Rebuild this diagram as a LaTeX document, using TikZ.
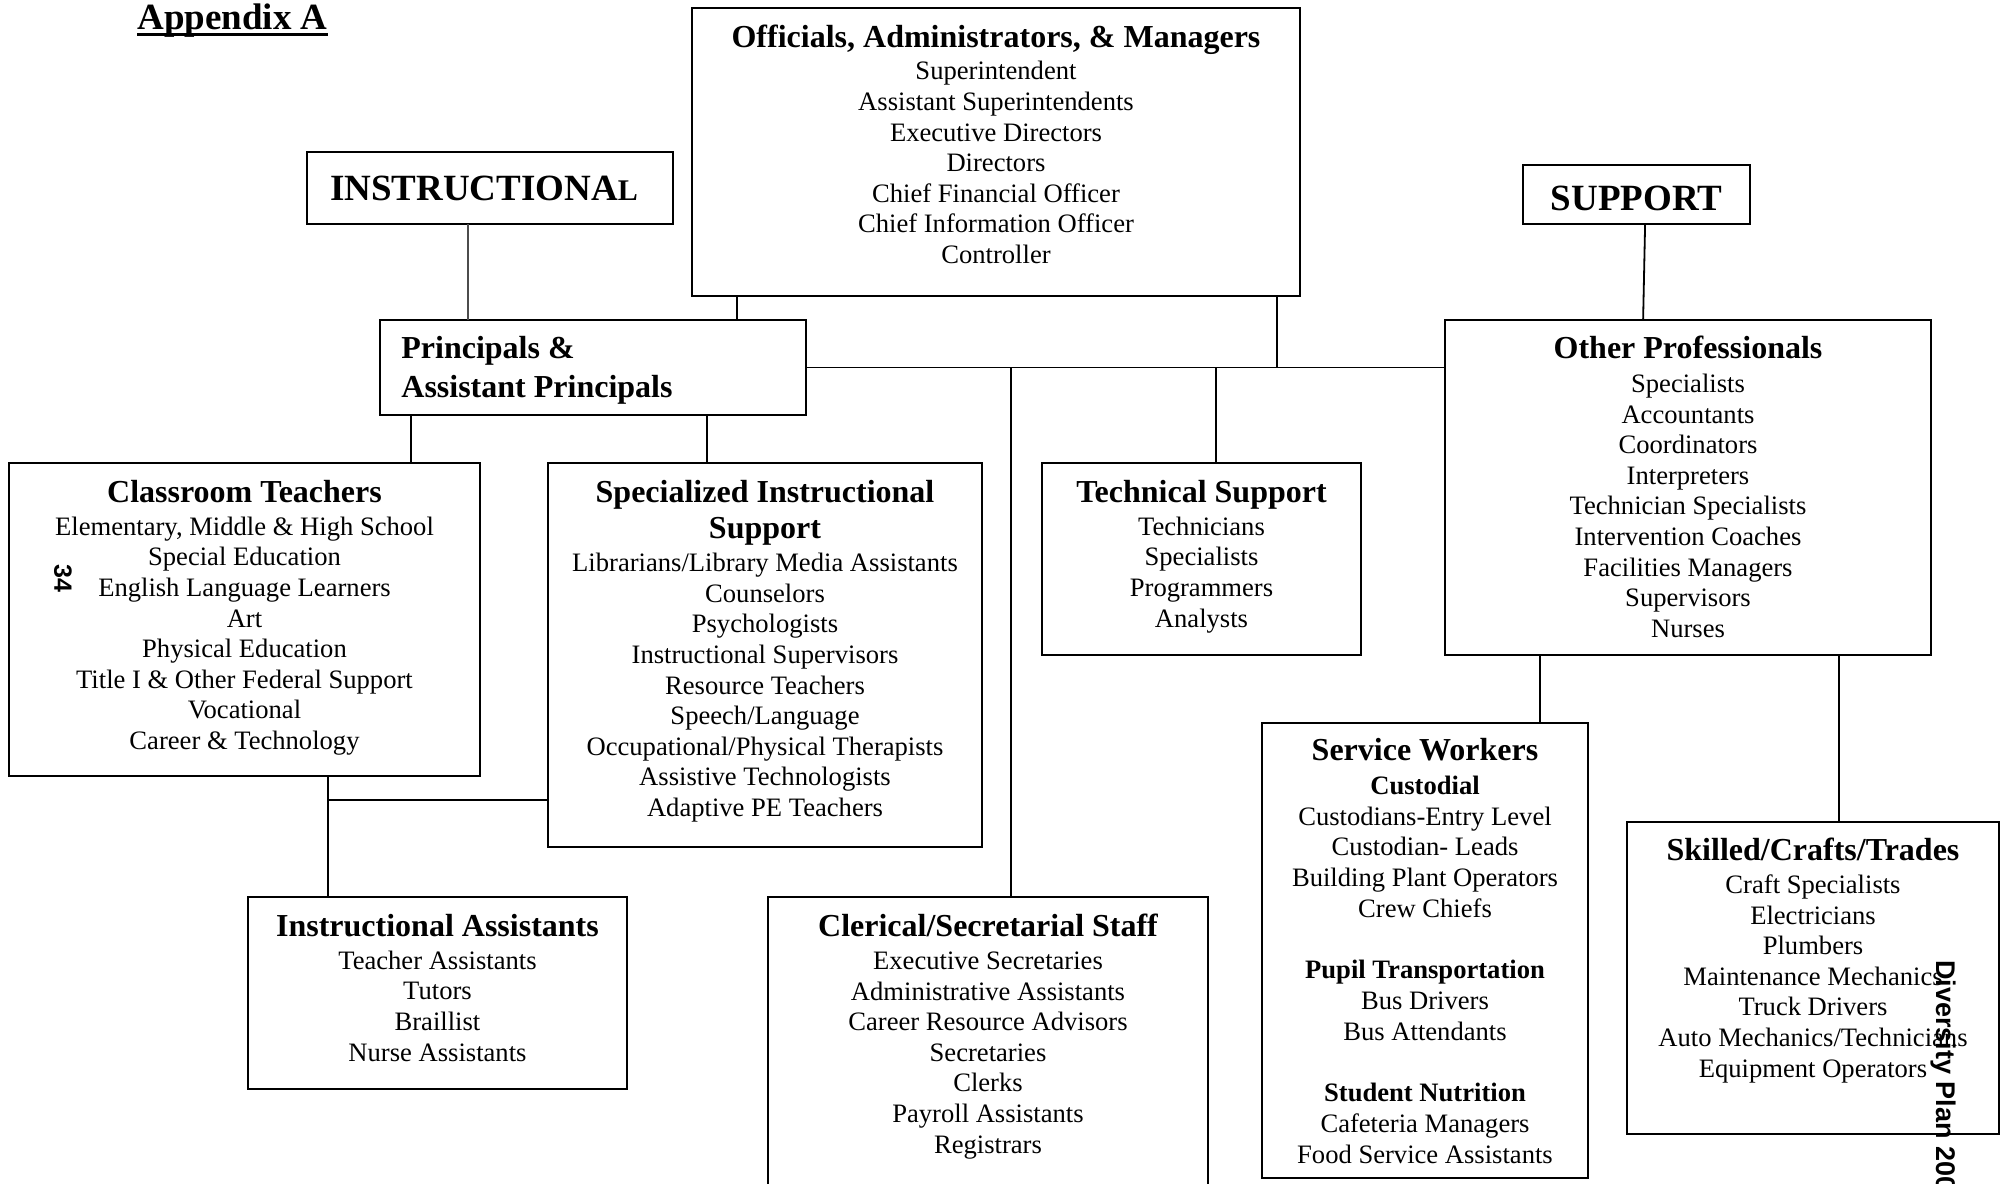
\documentclass[tikz,border=0pt]{standalone}
\usepackage{fontspec}
\setmainfont{Liberation Serif}
\newfontfamily\sansfam{Liberation Sans}
\newcommand\hd[1]{{\fontsize{16}{18}\selectfont\bfseries #1}}
\newcommand\sbh[1]{{\bfseries #1}}
\begin{document}
\begin{tikzpicture}[x=0.5pt,y=-0.5pt,
  box/.style={draw,line width=1pt,inner sep=0pt,outer sep=0pt},
  txt/.style={anchor=north,inner sep=0pt,align=center,font=\fontsize{13.3}{15.3}\selectfont},
  conn/.style={line width=0.9pt},
  side/.style={rotate=-90,inner sep=0pt,font=\sansfam\bfseries}]
\useasboundingbox[fill=white] (0,0) rectangle (2007,1183);

% title
\node[anchor=base west,inner sep=0pt,font=\fontsize{18.5}{20}\selectfont\bfseries] (app) at (137,29) {Appendix A};
\draw[line width=1.5pt] ([yshift=-2.5pt]app.base west) -- ([yshift=-2.5pt]app.base east);

% boxes
\node[box,minimum width=304pt,minimum height=144pt] (off) at (996,152) {};
\node[box,minimum width=183pt,minimum height=36pt] (instr) at (490,188) {};
\node[box,minimum width=113.5pt,minimum height=29.5pt] (supp) at (1636.5,194.5) {};
\node[box,minimum width=213pt,minimum height=47.5pt] (prin) at (593,367.5) {};
\node[box,minimum width=235.5pt,minimum height=156.5pt] (cls) at (244.5,619.5) {};
\node[box,minimum width=217pt,minimum height=192pt] (spec) at (765,655) {};
\node[box,minimum width=159.5pt,minimum height=96pt] (tech) at (1201.5,559) {};
\node[box,minimum width=243pt,minimum height=167.5pt] (oth) at (1688,487.5) {};
\node[box,minimum width=189.5pt,minimum height=96pt] (ia) at (437.5,993) {};
\node[box,minimum width=220pt,minimum height=151.5pt] (cler) at (988,1048.5) {};
\node[box,minimum width=163pt,minimum height=227.5pt] (serv) at (1425,950.5) {};
\node[box,minimum width=186pt,minimum height=156pt] (skill) at (1813,978) {};

% texts
\node[inner sep=0pt,font=\fontsize{18.5}{20}\selectfont\bfseries] (instrt) at ([xshift=-3pt]instr.center) {INSTRUCTIONA{\fontsize{15}{15}\selectfont L}};
\node[inner sep=0pt,font=\fontsize{18.5}{20}\selectfont\bfseries] (suppt) at ([yshift=-2pt]supp.center) {SUPPORT};

\node[txt] (offt) at ([yshift=-8.5pt]off.north) {\hd{Officials, Administrators, \& Managers}\\[0.7pt]
 Superintendent\\ Assistant Superintendents\\ Executive Directors\\ Directors\\
 Chief Financial Officer\\ Chief Information Officer\\ Controller};

\node[anchor=north west,inner sep=0pt,align=left,font=\fontsize{16}{19.5}\selectfont\bfseries] (print) at ([xshift=10.5pt,yshift=-8pt]prin.north west) {Principals \&\\ Assistant Principals};

\node[txt] (clst) at ([yshift=-8.5pt]cls.north) {\hd{Classroom Teachers}\\[1pt]
 Elementary, Middle \& High School\\ Special Education\\ English Language Learners\\ Art\\
 Physical Education\\ Title I \& Other Federal Support\\ Vocational\\ Career \& Technology};

\node[txt] (spect) at ([yshift=-8.5pt]spec.north) {\hd{Specialized Instructional}\\[2.7pt] \hd{Support}\\[1.2pt]
 Librarians/Library Media Assistants\\ Counselors\\ Psychologists\\ Instructional Supervisors\\
 Resource Teachers\\ Speech/Language\\ Occupational/Physical Therapists\\ Assistive Technologists\\
 Adaptive PE Teachers};

\node[txt] (techt) at ([yshift=-8.5pt]tech.north) {\hd{Technical Support}\\[1pt]
 Technicians\\ Specialists\\ Programmers\\ Analysts};

\node[txt] (otht) at ([yshift=-8pt]oth.north) {\hd{Other Professionals}\\[1.5pt]
 Specialists\\ Accountants\\ Coordinators\\ Interpreters\\ Technician Specialists\\
 Intervention Coaches\\ Facilities Managers\\ Supervisors\\ Nurses};

\node[txt] (iat) at ([yshift=-8.5pt]ia.north) {\hd{Instructional Assistants}\\[1pt]
 Teacher Assistants\\ Tutors\\ Braillist\\ Nurse Assistants};

\node[txt] (clert) at ([yshift=-8.5pt]cler.north) {\hd{Clerical/Secretarial Staff}\\[1pt]
 Executive Secretaries\\ Administrative Assistants\\ Career Resource Advisors\\ Secretaries\\
 Clerks\\ Payroll Assistants\\ Registrars};

\node[txt] (servt) at ([yshift=-7.5pt]serv.north) {\hd{Service Workers}\\[1.7pt]
 \sbh{Custodial}\\ Custodians-Entry Level\\ Custodian- Leads\\ Building Plant Operators\\ Crew Chiefs\\[15.6pt]
 \sbh{Pupil Transportation}\\ Bus Drivers\\ Bus Attendants\\[15.6pt]
 \sbh{Student Nutrition}\\ Cafeteria Managers\\ Food Service Assistants};

\node[txt] (skillt) at ([yshift=-8pt]skill.north) {\hd{Skilled/Crafts/Trades}\\[1pt]
 Craft Specialists\\ Electricians\\ Plumbers\\ Maintenance Mechanics\\ Truck Drivers\\
 Auto Mechanics/Technicians\\ Equipment Operators};

% junction coordinates
\coordinate (jOff) at (1277,367.5);
\coordinate (jCl) at (1011,367.5);
\coordinate (jT) at (1216,367.5);
\coordinate (jIA) at (328,800);

% connectors
\draw[line width=0.6pt,black!70] ([xshift=-11pt]instr.south) -- ([xshift=-11pt]instr.south |- prin.north);
\draw[conn] (off.south -| 737,0) -- (prin.north -| 737,0);
\draw[conn] (off.south -| jOff) -- (jOff);
\draw[conn] (prin.east) -- (prin.east -| oth.west);
\draw[conn] (jCl) -- (jCl |- cler.north);
\draw[conn] (jT) -- (jT |- tech.north);
\draw[conn] ([xshift=4.3pt]supp.south) -- ([xshift=3.3pt]supp.south |- oth.north);
\draw[conn] (prin.south -| 411,0) -- (cls.north -| 411,0);
\draw[conn] (prin.south -| 707,0) -- (spec.north -| 707,0);
\draw[conn] (cls.south -| jIA) -- (ia.north -| jIA);
\draw[conn] (jIA) -- (jIA -| spec.west);
\draw[conn] (oth.south -| 1540,0) -- (serv.north -| 1540,0);
\draw[conn] (oth.south -| 1839,0) -- (skill.north -| 1839,0);

% page marks
\node[side,font=\sansfam\bfseries\fontsize{12.5}{14}\selectfont] (pg) at (63,578) {34};
\node[side,anchor=west,font=\sansfam\bfseries\fontsize{13.5}{15}\selectfont] (div) at (1943,960) {Diversity Plan 200};
\end{tikzpicture}
\end{document}
